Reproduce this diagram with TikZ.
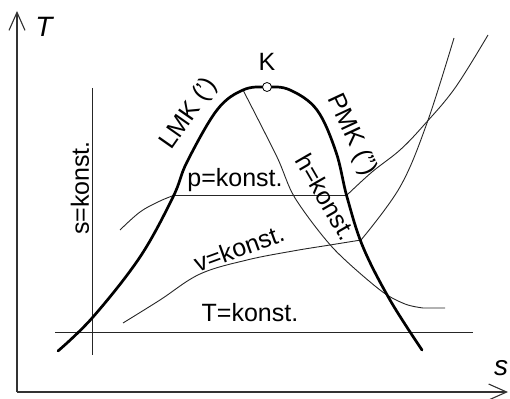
\documentclass[tikz,border=0pt]{standalone}
\usepackage{fontspec}
\setmainfont{Liberation Sans}
\usetikzlibrary{arrows.meta}
\begin{document}
\begin{tikzpicture}[x=1pt,y=-1pt,
  thinline/.style={line width=0.9pt, draw=black!85, line join=round},
  domeline/.style={line width=2.7pt, draw=black, line join=round, line cap=round},
  axisline/.style={line width=1.4pt, draw=black!80, -{Straight Barb[length=18pt,width=16pt,line width=1.1pt]}},
  lbl/.style={font=\fontsize{25}{29}\selectfont, inner sep=0pt},
  axlbl/.style={font=\fontsize{28}{32}\selectfont\itshape, inner sep=0pt},
]
\useasboundingbox (0,0) rectangle (510,398);

% axes
\coordinate (O) at (17,392);
\coordinate (Tend) at (17,11);
\coordinate (Send) at (508,392);
\draw[axisline] (O) -- (Tend);
\draw[axisline] (O) -- (Send);
\node[axlbl] (Tlab) at (44,27) {T};
\node[axlbl] (slab) at (501,368) {s};

% T = konst
\draw[thinline] (55,332) -- (473,332);
% s = konst
\draw[thinline] (92,88) -- (92,355);

% p = konst
\draw[thinline] plot[smooth, tension=0.6] coordinates {(120,230) (140,212) (160,201) (175,195)};
\draw[thinline] (175,195) -- (347,195);
\draw[thinline] plot[smooth, tension=0.6] coordinates {(347,195) (372,172) (400,150) (424,125) (455,88) (488,35)};

% v = konst
\draw[thinline] plot[smooth, tension=0.6] coordinates {(123,323) (160,300) (200,274) (247,260) (293,251) (330,245) (361,240)};
\draw[thinline] plot[smooth, tension=0.6] coordinates {(361,240) (400,187) (427,123) (454,38)};

% h = konst
\draw[thinline] plot[smooth, tension=0.5] coordinates {(243,90) (277,157) (295,198) (333,248) (380,290) (405,304) (423,308)} -- (445,308);

% saturation dome
\draw[domeline] plot[smooth, tension=0.6] coordinates {(58,351) (93,317) (140,257) (173,197) (187,162) (217,110) (243,90) (267,87) (290,90) (317,110) (336,152) (347,197) (363,247) (390,300) (422,350)};
\node[circle, draw=black, line width=0.8pt, fill=white, minimum size=9pt, inner sep=0pt] (K) at (267,87) {};
\node[lbl] (Klab) at (267,62) {K};

% labels
\node[lbl, rotate=55] (LMK) at (189,114) {LMK (')};
\node[lbl, rotate=-65] (PMK) at (352,135) {PMK ('')};
\node[lbl] (plab) at (235,180) {p=konst.};
\node[lbl, rotate=-60] (hlab) at (326,197) {h=konst.};
\node[lbl, rotate=20] (vlab) at (239,248) {v=konst.};
\node[lbl] (Tk) at (250,313) {T=konst.};
\node[lbl, rotate=90] (sk) at (80,188) {s=konst.};
\end{tikzpicture}
\end{document}
